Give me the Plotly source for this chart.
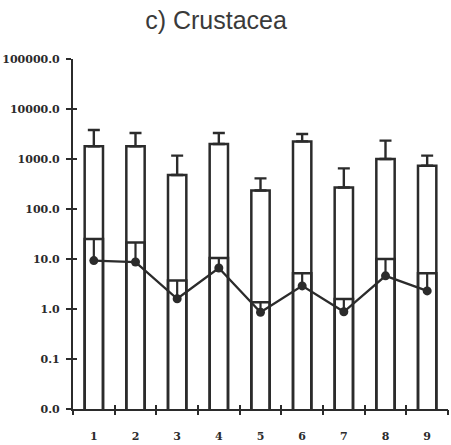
import plotly.graph_objects as go

# Sampling stations
stations = [1, 2, 3, 4, 5, 6, 7, 8, 9]
station_labels = ["1", "2", "3", "4", "5", "6", "7", "8", "9"]

# Arithmetic mean abundance with upper error limit
total_mean = [1800, 1800, 480, 2000, 235, 2250, 270, 1000, 735]
total_upper = [3800, 3300, 1170, 3300, 410, 3160, 650, 2330, 1170]

# Geometric mean abundance with upper error limit (inner boxes)
geo_mean = [9.3, 8.7, 1.6, 6.6, 0.86, 2.9, 0.88, 4.6, 2.3]
geo_upper = [25, 21.5, 3.7, 10.5, 1.36, 5.2, 1.58, 10, 5.2]

# Log-scale axis ticks
y_tickvals = [0.01, 0.1, 1, 10, 100, 1000, 10000, 100000]
y_ticktext = ["0.0", "0.1", "1.0", "10.0", "100.0", "1000.0", "10000.0", "100000.0"]
x_bounds = [s - 0.5 for s in stations] + [stations[-1] + 0.5]

ink = "#2b2b2b"
tick_font = dict(family="DejaVu Serif", size=11, color=ink, weight="bold")
bar_w = 0.44

fig = go.Figure()

fig.add_bar(
    x=stations, y=total_mean, width=bar_w,
    marker=dict(color="white", line=dict(color=ink, width=2.5)),
    error_y=dict(type="data", symmetric=False,
                 array=[u - m for u, m in zip(total_upper, total_mean)],
                 arrayminus=[0] * len(stations),
                 color=ink, thickness=2.4, width=6),
    showlegend=False, hoverinfo="skip",
)
fig.add_bar(
    x=stations, y=geo_upper, width=bar_w,
    marker=dict(color="rgba(0,0,0,0)", line=dict(color=ink, width=2.5)),
    showlegend=False, hoverinfo="skip",
)
fig.add_scatter(
    x=stations, y=geo_mean, mode="lines+markers",
    line=dict(color=ink, width=2.3),
    marker=dict(color=ink, size=9),
    error_y=dict(type="data", symmetric=False,
                 array=[u - m for u, m in zip(geo_upper, geo_mean)],
                 arrayminus=[0] * len(stations),
                 color=ink, thickness=2.2, width=0),
    showlegend=False, hoverinfo="skip",
)

# Empty traces that carry the overlay axes used for crossing tick marks
fig.add_scatter(x=[None], y=[None], xaxis="x2", yaxis="y2",
                showlegend=False, hoverinfo="skip")
fig.add_scatter(x=[None], y=[None], xaxis="x3", yaxis="y",
                showlegend=False, hoverinfo="skip")

fig.update_layout(
    width=451, height=445,
    margin=dict(l=73, r=3, t=59, b=36),
    paper_bgcolor="white", plot_bgcolor="white",
    barmode="overlay",
    title=dict(text="c) Crustacea", x=0.479, xanchor="center",
               y=1 - 20 / 445, yanchor="middle",
               font=dict(family="Liberation Sans", size=25, color="#3a3a3a")),
    xaxis=dict(range=[0.5, 9.5], tickmode="array", tickvals=stations,
               ticktext=station_labels, ticks="", showline=True,
               linecolor=ink, linewidth=2.2, showgrid=False, zeroline=False,
               tickfont=tick_font, ticklabelstandoff=16),
    xaxis2=dict(overlaying="x", anchor="y2", range=[0.5, 9.5],
                tickmode="array", tickvals=x_bounds, ticks="outside",
                ticklen=5, tickwidth=2.2, tickcolor=ink, showticklabels=False,
                showline=False, showgrid=False, zeroline=False),
    xaxis3=dict(overlaying="x", anchor="y", range=[0.5, 9.5],
                tickmode="array", tickvals=x_bounds, ticks="inside",
                ticklen=4, tickwidth=2.2, tickcolor=ink, showticklabels=False,
                showline=False, showgrid=False, zeroline=False),
    yaxis=dict(type="log", range=[-2, 5], tickmode="array",
               tickvals=y_tickvals, ticktext=y_ticktext, ticks="outside",
               ticklen=5, tickwidth=2.2, tickcolor=ink, showline=True,
               linecolor=ink, linewidth=2.2, showgrid=False, zeroline=False,
               tickfont=tick_font, ticklabelstandoff=4),
    yaxis2=dict(overlaying="y", anchor="x2", type="log", range=[-2, 5],
                tickmode="array", tickvals=y_tickvals, ticks="inside",
                ticklen=4, tickwidth=2.2, tickcolor=ink, showticklabels=False,
                showline=False, showgrid=False, zeroline=False),
)

fig.write_html("out.html")
